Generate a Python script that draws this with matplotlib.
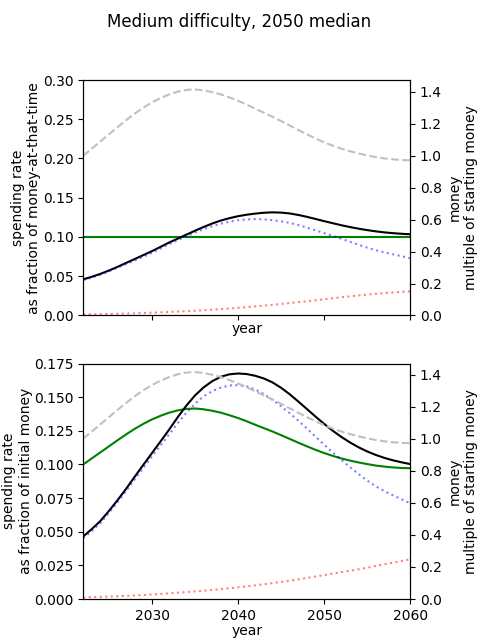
import numpy as np
import matplotlib
matplotlib.use("Agg")
import matplotlib.pyplot as plt

years = list(range(2022, 2061))

# money, multiple of starting money (right axes)
money = [1.000, 1.045, 1.090, 1.135, 1.180, 1.224, 1.265, 1.302, 1.335, 1.362,
         1.385, 1.402, 1.413, 1.416, 1.410, 1.399, 1.385, 1.366, 1.345, 1.321,
         1.295, 1.270, 1.245, 1.218, 1.190, 1.162, 1.135, 1.109, 1.085, 1.064,
         1.045, 1.029, 1.015, 1.003, 0.992, 0.984, 0.978, 0.974, 0.972]

# top: spending rate as fraction of money-at-that-time
top_green = [0.10] * len(years)
top_black = [0.0460, 0.0493, 0.0530, 0.0573, 0.0620, 0.0670, 0.0720, 0.0770, 0.0820, 0.0875,
             0.0930, 0.0980, 0.1030, 0.1080, 0.1128, 0.1172, 0.1210, 0.1240, 0.1265, 0.1284,
             0.1298, 0.1309, 0.1314, 0.1311, 0.1300, 0.1281, 0.1257, 0.1230, 0.1202, 0.1176,
             0.1150, 0.1127, 0.1106, 0.1088, 0.1072, 0.1059, 0.1049, 0.1041, 0.1035]
top_blue = [0.0450, 0.0483, 0.0520, 0.0563, 0.0610, 0.0655, 0.0700, 0.0750, 0.0800, 0.0855,
            0.0910, 0.0960, 0.1010, 0.1057, 0.1100, 0.1138, 0.1170, 0.1195, 0.1213, 0.1224,
            0.1228, 0.1225, 0.1215, 0.1200, 0.1180, 0.1152, 0.1120, 0.1085, 0.1050, 0.1015,
            0.0978, 0.0940, 0.0902, 0.0865, 0.0832, 0.0804, 0.0780, 0.0755, 0.0730]
top_red = [0.0015, 0.0016, 0.0018, 0.0020, 0.0022, 0.0025, 0.0028, 0.0032, 0.0036, 0.0040,
           0.0045, 0.0050, 0.0055, 0.0061, 0.0067, 0.0074, 0.0081, 0.0089, 0.0097, 0.0106,
           0.0116, 0.0126, 0.0136, 0.0147, 0.0158, 0.0170, 0.0182, 0.0194, 0.0207, 0.0220,
           0.0232, 0.0244, 0.0255, 0.0266, 0.0276, 0.0285, 0.0294, 0.0301, 0.0308]

# bottom: spending rate as fraction of initial money
bot_green = [0.1000, 0.1045, 0.1090, 0.1135, 0.1180, 0.1224, 0.1265, 0.1302, 0.1335, 0.1362,
             0.1385, 0.1402, 0.1413, 0.1416, 0.1410, 0.1399, 0.1385, 0.1366, 0.1345, 0.1321,
             0.1295, 0.1270, 0.1245, 0.1218, 0.1190, 0.1162, 0.1135, 0.1109, 0.1085, 0.1064,
             0.1045, 0.1029, 0.1015, 0.1003, 0.0992, 0.0984, 0.0978, 0.0974, 0.0972]
bot_black = [0.0465, 0.0520, 0.0580, 0.0655, 0.0735, 0.0820, 0.0910, 0.0998, 0.1085, 0.1172,
             0.1260, 0.1352, 0.1438, 0.1513, 0.1573, 0.1619, 0.1652, 0.1670, 0.1676, 0.1672,
             0.1659, 0.1639, 0.1610, 0.1570, 0.1522, 0.1468, 0.1412, 0.1356, 0.1302, 0.1251,
             0.1205, 0.1164, 0.1128, 0.1097, 0.1071, 0.1049, 0.1031, 0.1016, 0.1003]
bot_blue = [0.0452, 0.0505, 0.0565, 0.0640, 0.0720, 0.0805, 0.0890, 0.0975, 0.1060, 0.1142,
            0.1225, 0.1308, 0.1385, 0.1452, 0.1506, 0.1545, 0.1571, 0.1587, 0.1590, 0.1580,
            0.1557, 0.1523, 0.1481, 0.1433, 0.1381, 0.1326, 0.1268, 0.1207, 0.1147, 0.1090,
            0.1035, 0.0980, 0.0929, 0.0881, 0.0838, 0.0802, 0.0771, 0.0741, 0.0712]
bot_red = [0.0012, 0.0014, 0.0016, 0.0018, 0.0021, 0.0024, 0.0027, 0.0030, 0.0034, 0.0038,
           0.0042, 0.0047, 0.0052, 0.0057, 0.0062, 0.0068, 0.0074, 0.0080, 0.0087, 0.0094,
           0.0102, 0.0110, 0.0118, 0.0127, 0.0136, 0.0146, 0.0157, 0.0167, 0.0178, 0.0189,
           0.0200, 0.0210, 0.0221, 0.0233, 0.0246, 0.0258, 0.0270, 0.0283, 0.0295]

fig, (ax1, ax2) = plt.subplots(2, 1, sharex=True, figsize=(4.78, 6.4), dpi=100)
fig.subplots_adjust(left=0.174, right=0.858, top=0.875, bottom=0.064, hspace=0.204)
fig.suptitle("Medium difficulty, 2050 median")


def draw_panel(ax, green, black, blue, red, ylim, ylabel, right_top):
    ax.plot(years, green, color='green')
    ax.plot(years, black, color='black')
    ax.plot(years, blue, color='blue', linestyle=':', alpha=0.5)
    ax.plot(years, red, color='red', linestyle=':', alpha=0.5)
    ax.set_ylim(*ylim)
    ax.set_xlim(2022, 2060)
    ax.set_xticks([2030, 2040, 2050, 2060])
    ax.set_ylabel(ylabel, labelpad=1)
    ax.set_xlabel("year", labelpad=1)

    axr = ax.twinx()
    axr.plot(years, money, color='silver', linestyle='--')
    axr.set_ylim(0, right_top)
    axr.set_ylabel("money\nmultiple of starting money")
    return axr


draw_panel(ax1, top_green, top_black, top_blue, top_red, (0, 0.30),
           "spending rate\nas fraction of money-at-that-time", 1.475)
draw_panel(ax2, bot_green, bot_black, bot_blue, bot_red, (0, 0.175),
           "spending rate\nas fraction of initial money", 1.469)
ax1.xaxis.set_tick_params(labelbottom=False)

fig.savefig("out.png")
